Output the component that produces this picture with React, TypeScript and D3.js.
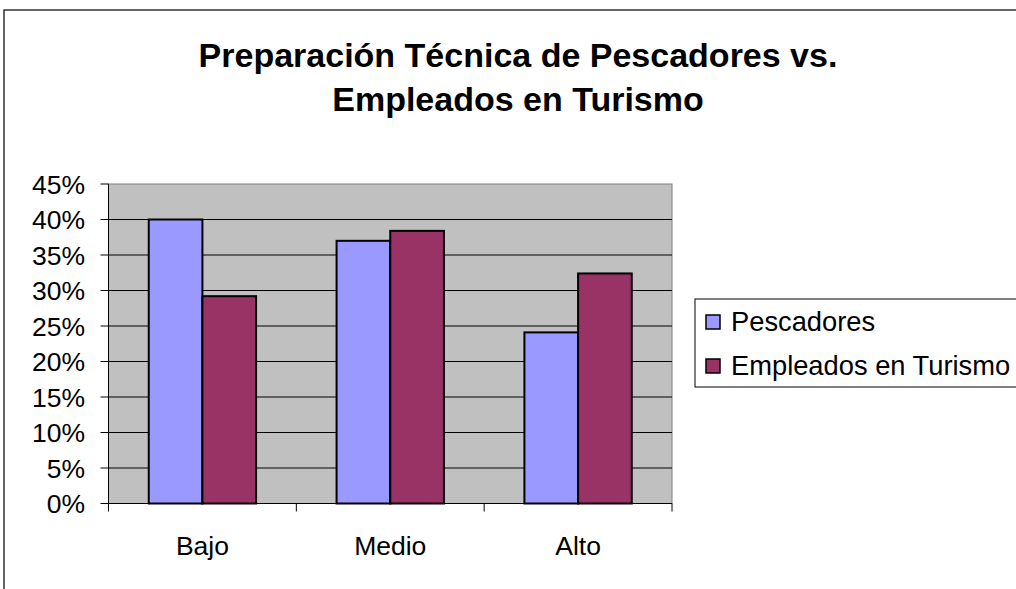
import React from "react";
import * as d3 from "d3";

const categories = ["Bajo", "Medio", "Alto"];
const seriesNames = ["Pescadores", "Empleados en Turismo"];
const pescadores = [0.40, 0.37, 0.241];
const empleados = [0.292, 0.384, 0.324];
const yTicks = [0, 0.05, 0.1, 0.15, 0.2, 0.25, 0.3, 0.35, 0.4, 0.45];
const colors = ["#9999FF", "#993366"];
const titleLines = ["Preparación Técnica de Pescadores vs.", "Empleados en Turismo"];

export default function App() {
  const W = 1016, H = 589;
  const left = 108.5, right = 672, top = 184, bottom = 503.5;
  const font = "'Liberation Sans', Arial, sans-serif";
  const x = d3.scaleBand<string>().domain(categories).range([left, right]).paddingInner(0).paddingOuter(0);
  const y = d3.scaleLinear().domain([0, 0.45]).range([bottom, top]);
  const bw = x.bandwidth() / 3.5;
  const data = [pescadores, empleados];
  const fmt = d3.format(".0%");
  return (
    <svg width={W} height={H} style={{ position: "absolute", left: 0, top: 0, background: "#fff" }}>
      <rect x={4} y={10} width={W + 10} height={H + 10} fill="#fff" stroke="#000" strokeWidth={1.2} />
      {titleLines.map((t, i) => (
        <text key={i} x={518} y={67 + i * 44} textAnchor="middle" fontFamily={font} fontWeight="bold" fontSize={34} fill="#000">{t}</text>
      ))}
      <rect x={left} y={top} width={right - left} height={bottom - top} fill="#C0C0C0" stroke="#808080" strokeWidth={1} />
      {yTicks.map((t, i) => (
        <g key={i}>
          {t > 0 && t < 0.45 && <line x1={left} x2={right} y1={y(t)} y2={y(t)} stroke="#000" strokeWidth={1} />}
          <line x1={left - 8} x2={left} y1={y(t)} y2={y(t)} stroke="#000" strokeWidth={1} />
          <text x={85} y={y(t)} dy="0.36em" textAnchor="end" fontFamily={font} fontSize={26.5} fill="#000">{fmt(t)}</text>
        </g>
      ))}
      <line x1={left} x2={left} y1={top} y2={bottom} stroke="#000" strokeWidth={1} />
      <line x1={left} x2={right} y1={bottom} y2={bottom} stroke="#000" strokeWidth={1} />
      {[...categories.map((c) => x(c)!), right].map((v, i) => (
        <line key={i} x1={v} x2={v} y1={bottom} y2={bottom + 8} stroke="#000" strokeWidth={1} />
      ))}
      {categories.map((c, ci) =>
        data.map((s, si) => {
          const bx = x(c)! + bw * 0.75 + si * bw;
          return (
            <rect key={c + si} x={bx} y={y(s[ci])} width={bw} height={bottom - y(s[ci])} fill={colors[si]} stroke="#000" strokeWidth={2} />
          );
        })
      )}
      {categories.map((c) => (
        <text key={c} x={x(c)! + x.bandwidth() / 2} y={545} dy="0.36em" textAnchor="middle" fontFamily={font} fontSize={26.5} fill="#000">{c}</text>
      ))}
      <rect x={695} y={299} width={340} height={88} fill="#fff" stroke="#000" strokeWidth={1} />
      {seriesNames.map((n, i) => (
        <g key={n}>
          <rect x={706} y={315 + i * 44} width={14} height={14} fill={colors[i]} stroke="#000" strokeWidth={1.5} />
          <text x={731} y={321 + i * 44} dy="0.36em" fontFamily={font} fontSize={27.3} fill="#000">{n}</text>
        </g>
      ))}
    </svg>
  );
}
